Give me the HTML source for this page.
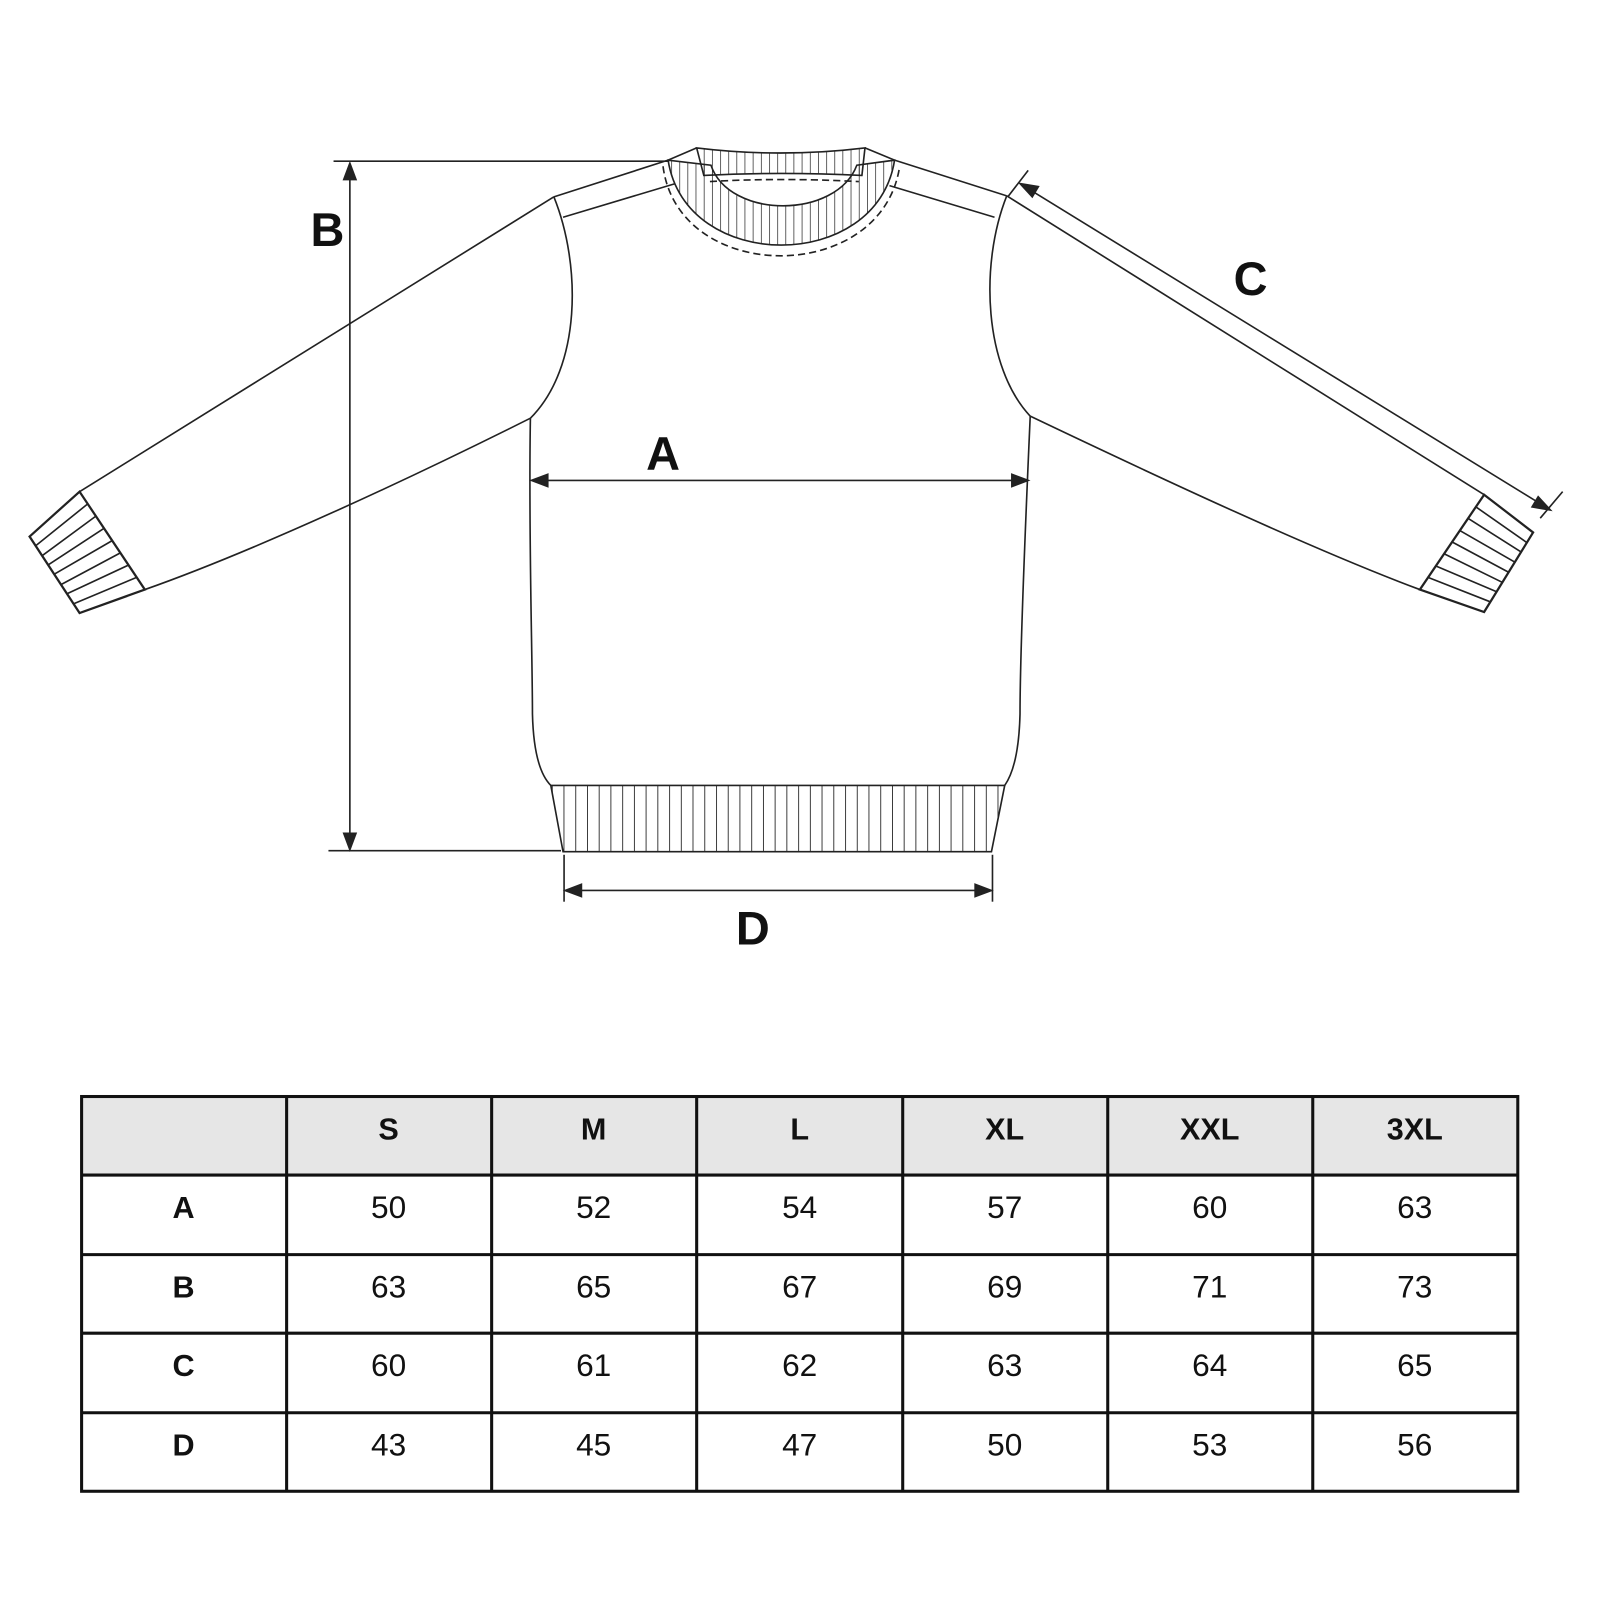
<!DOCTYPE html>
<html><head><style>html,body{margin:0;padding:0;background:#fff}svg{display:block}</style></head>
<body>
<svg width="1600" height="1600" viewBox="0 0 1568.6 1568.6" xmlns="http://www.w3.org/2000/svg">
<defs>
<pattern id="vl" width="11.5" height="20" patternUnits="userSpaceOnUse" x="541">
<line x1="0" y1="0" x2="0" y2="20" stroke="#111" stroke-width="1.6"/></pattern>
<pattern id="vc" width="8" height="20" patternUnits="userSpaceOnUse" x="690">
<line x1="0" y1="0" x2="0" y2="20" stroke="#111" stroke-width="1.3"/></pattern>
</defs>
<rect width="1600" height="1600" fill="#fff"/>
<g fill="none" stroke="#222" stroke-width="1.6">
<!-- body -->
<path d="M520,410 C518,520 522,640 522,700 C523,740 530,760 540,770"/>
<path d="M1010,408 C1005,520 1000,640 1000,700 C999,740 992,760 985,770"/>
<path d="M540,770 L985,770 L972,835 L552,835 Z" fill="url(#vl)"/>
<!-- shoulders -->
<path d="M655,157 L543,193"/><path d="M662,180 L552,213"/>
<path d="M877,157 L987,192"/><path d="M872,182 L975,213"/>
<!-- armholes -->
<path d="M543,193 C570,260 570,360 520,410"/>
<path d="M987,192 C960,260 965,360 1010,408"/>
<!-- sleeves -->
<path d="M543,193 L78,482"/><path d="M520,410 C400,470 250,540 142,578"/>
<path d="M987,192 L1455,485"/><path d="M1010,408 C1140,470 1290,540 1392,578"/>
<!-- cuffs -->
<path d="M29,526 L78,482 L142,578 L78,601 Z" stroke-width="2.2"/>
<path d="M86,494 L35,535 M94,506 L41,545 M102,518 L47,554 M110,530 L53,563 M118,542 L60,573 M126,554 L66,582 M134,566 L72,592"/>
<path d="M1455,485 L1503,522 L1455,600 L1392,578 Z" stroke-width="2.2"/>
<path d="M1447,497 L1497,532 M1439,508 L1491,541 M1431,520 L1485,551 M1423,531 L1479,561 M1416,543 L1473,571 M1408,555 L1467,580 M1400,566 L1461,590"/>
<!-- collar -->
<path d="M683,145 Q765,155 848,145 L845,172 Q765,168 690,172 Z" fill="url(#vc)"/>
<path d="M696,178 Q765,174 842,178" stroke-dasharray="7,4"/>
<path d="M655,157 L683,145 M848,145 L877,157"/>
<path d="M655,157 C672,268 860,268 877,157 L840,162 C820,215 715,215 697,162 Z" fill="url(#vc)"/>
<path d="M650,163 C665,280 865,280 882,163" stroke-dasharray="7,4"/>
</g>
<!-- dimension lines -->
<g stroke="#222" stroke-width="1.6" fill="#222">
<line x1="327" y1="158" x2="655" y2="158"/><line x1="322" y1="834" x2="550" y2="834"/>
<line x1="343" y1="168" x2="343" y2="824"/>
<path d="M343,160 L337,176 L349,176 Z"/><path d="M343,833 L337,817 L349,817 Z"/>
<line x1="530" y1="471" x2="1000" y2="471"/>
<path d="M521,471 L537,465 L537,477 Z"/><path d="M1008,471 L992,465 L992,477 Z"/>
<line x1="553" y1="838" x2="553" y2="884"/><line x1="973" y1="838" x2="973" y2="884"/>
<line x1="560" y1="873" x2="966" y2="873"/>
<path d="M554,873 L570,867 L570,879 Z"/><path d="M972,873 L956,867 L956,879 Z"/>
<line x1="988" y1="193" x2="1008" y2="167"/><line x1="1532" y1="482" x2="1510" y2="508"/>
<line x1="1008" y1="185" x2="1512" y2="495"/>
<path d="M1000,180 L1012,193 L1018,183 Z"/><path d="M1520,500 L1508,487 L1502,497 Z"/>
</g>
<g font-family="Liberation Sans, sans-serif" font-weight="bold" font-size="46" fill="#111" text-anchor="middle">
<text x="321" y="241">B</text><text x="1226" y="289">C</text><text x="650" y="461">A</text><text x="738" y="926">D</text>
</g>
<!-- table -->
<rect x="80" y="1075" width="1408" height="77" fill="#e6e6e6"/>
<g stroke="#111" stroke-width="3" fill="none">
<rect x="80" y="1075" width="1408" height="387"/>
<path d="M80,1152H1488M80,1230H1488M80,1307H1488M80,1385H1488"/>
<path d="M281,1075V1462M482,1075V1462M683,1075V1462M885,1075V1462M1086,1075V1462M1287,1075V1462"/>
</g>
<g font-family="Liberation Sans, sans-serif" font-size="31" fill="#111" text-anchor="middle">
<g font-weight="bold" font-size="30">
<text x="381" y="1117">S</text><text x="582" y="1117">M</text><text x="784" y="1117">L</text><text x="985" y="1117">XL</text><text x="1186" y="1117">XXL</text><text x="1387" y="1117">3XL</text>
<text x="180" y="1194">A</text><text x="180" y="1272">B</text><text x="180" y="1349">C</text><text x="180" y="1427">D</text>
</g>
<text x="381" y="1194">50</text><text x="582" y="1194">52</text><text x="784" y="1194">54</text><text x="985" y="1194">57</text><text x="1186" y="1194">60</text><text x="1387" y="1194">63</text>
<text x="381" y="1272">63</text><text x="582" y="1272">65</text><text x="784" y="1272">67</text><text x="985" y="1272">69</text><text x="1186" y="1272">71</text><text x="1387" y="1272">73</text>
<text x="381" y="1349">60</text><text x="582" y="1349">61</text><text x="784" y="1349">62</text><text x="985" y="1349">63</text><text x="1186" y="1349">64</text><text x="1387" y="1349">65</text>
<text x="381" y="1427">43</text><text x="582" y="1427">45</text><text x="784" y="1427">47</text><text x="985" y="1427">50</text><text x="1186" y="1427">53</text><text x="1387" y="1427">56</text>
</g>
</svg>
</body></html>
